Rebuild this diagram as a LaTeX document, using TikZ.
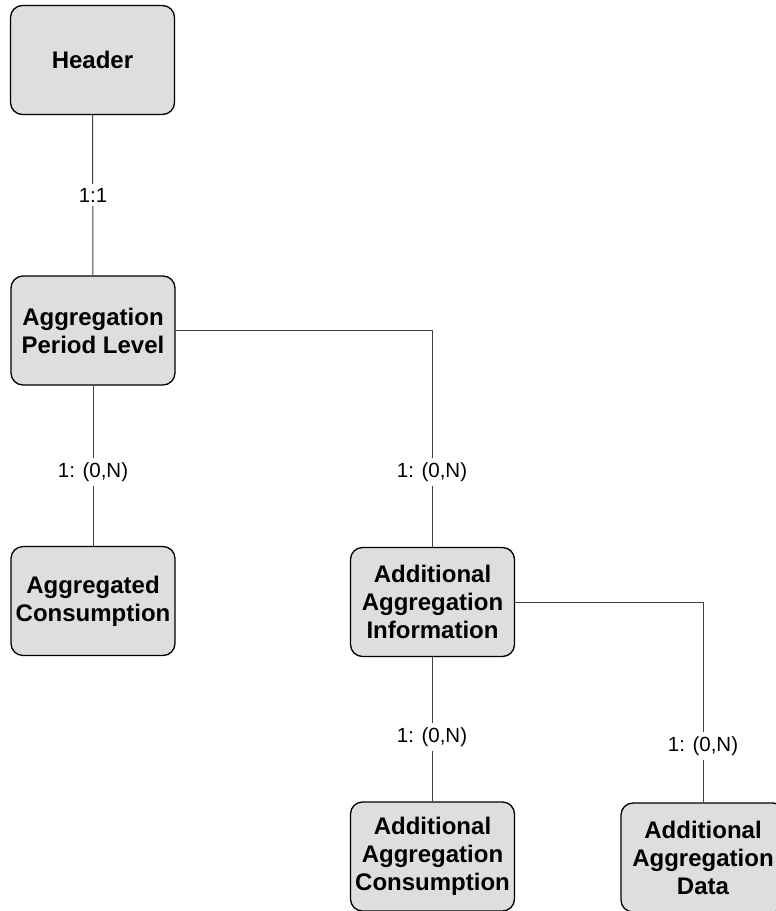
\documentclass[tikz,border=0pt]{standalone}
\usepackage{fontspec}
\setmainfont{Liberation Sans}
\begin{document}
\begin{tikzpicture}[x=1pt,y=-1pt,
                        main/.style = {draw, line width=1.3pt, rounded corners=12pt, fill=black!13,
                                       minimum width=164pt, minimum height=109pt, align=center,
                                       font=\bfseries\fontsize{24}{28}\selectfont},
                        card/.style = {fill=white, draw=none, inner sep=4pt, font=\fontsize{20.5}{24}\selectfont},
                        link/.style = {draw=black!75, line width=1pt}]
                        \path[use as bounding box] (0,0) rectangle (776,911);
                        \clip (0,0) rectangle (776,911);

                        \node[main] (hdr) at (92.5,60) {Header};
                        \node[main] (apl) at (93,330.5) {Aggregation\\Period Level};
                        \node[main] (agc) at (93,601) {Aggregated\\Consumption};
                        \node[main] (aai) at (432.5,602) {Additional\\Aggregation\\Information};
                        \node[main] (aac) at (432.5,856.5) {Additional\\Aggregation\\Consumption};
                        \node[main] (aad) at (703,857.5) {Additional\\Aggregation\\Data};

                        \draw[link] (hdr) -- (apl);
                        \draw[link] (apl) -- (agc);
                        \draw[link] (apl.east) -| (aai.north);
                        \draw[link] (aai) -- (aac);
                        \draw[link] (aai.east) -| (aad.north);

                        % cardinalities
                        \node[card] (c1) at (93,195) {1:1};
                        \node[card] (c2) at (93,472) {1: (0,N)};
                        \node[card] (c3) at (432,472) {1: (0,N)};
                        \node[card] (c4) at (432,737) {1: (0,N)};
                        \node[card] (c5) at (703,746) {1: (0,N)};
                    \end{tikzpicture}
\end{document}
